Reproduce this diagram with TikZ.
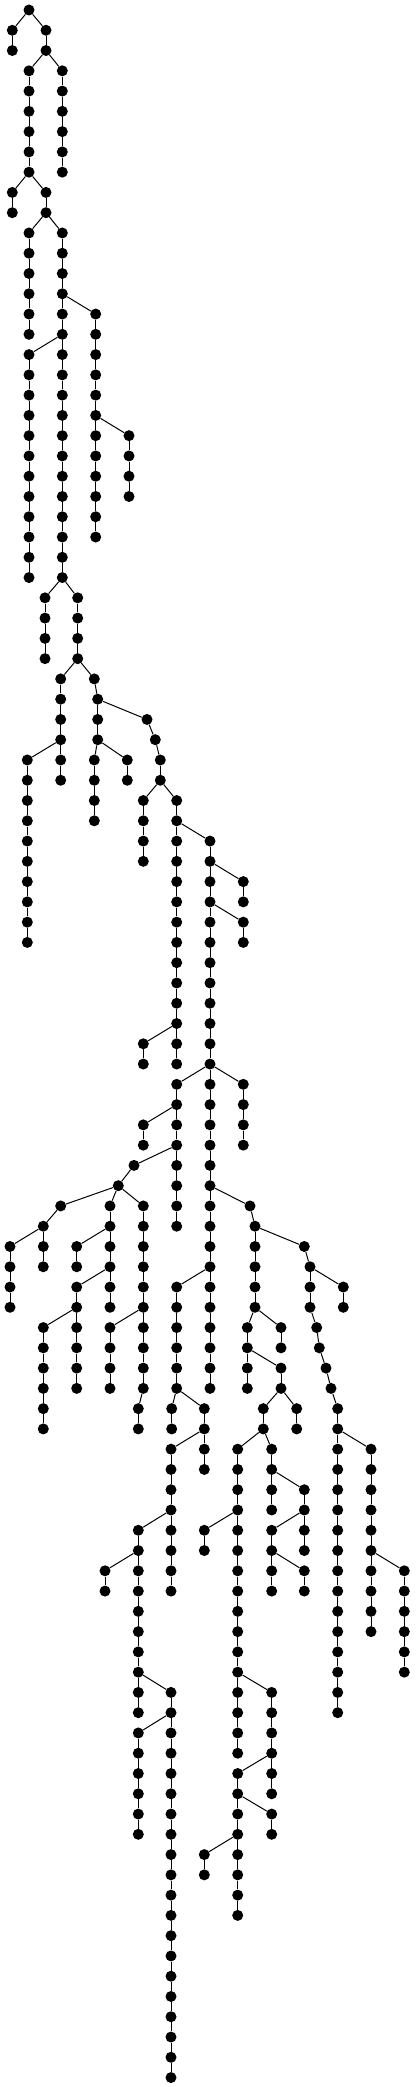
\documentclass[tikz,border=0pt]{standalone}
\tikzset{
  dot/.style={circle, fill=black, inner sep=0pt, minimum size=11pt},
  edge/.style={line width=1pt}
}
\begin{document}
\begin{tikzpicture}[x=1pt, y=1pt]
  \useasboundingbox (0,0) rectangle (415,-2087);
  % Vertical chains: name/x/first row/last row
  \foreach \nm/\x/\s/\e in {R/29/0/0, A/12.3/1/2, B/46/1/2, C/29/3/8, D/62.3/3/8,
      E/12.3/9/10, F/46/9/10, G/29/11/16, H/62.3/11/28, I/95.7/15/26, J/129/21/24,
      K/29/17/28, L/45/29/32, M/77.7/29/32, N/60.7/33/38, O/27.3/37/46, P/94.3/33/33,
      Q/97.7/34/36, S/147/35/35, T/155.3/36/36, U/160.3/37/38, V/94.3/37/40,
      W/127.3/37/38, X/143.3/39/42, Y/176.7/39/52, Z/210/41/52, AA/243.3/43/44,
      AB/243.3/45/46, AC/143.3/51/52, AD/176.7/53/60, AE/210/53/68, AF/243.3/53/56,
      AG/143.3/55/56, AH/134/57/57, AI/118.3/58/58, AJ/60.7/59/59, AK/110/59/64,
      AL/143.3/59/68, AM/43.3/60/62, AN/10/61/64, AO/76.7/61/62, AP/76.7/63/68,
      AQ/43.3/65/70, AR/110/65/68, AS/138.3/69/70, AT/250/59/59, AU/255/60/64,
      AV/176.7/63/68, AW/171.7/69/70, AX/204.3/69/72, AY/171/71/78, AZ/138.3/75/84,
      BA/105/77/78, BB/171/83/102, BC/138.3/85/90, BD/247.3/65/68, BE/281/65/66,
      BF/281/67/68, BG/263.3/69/70, BH/296.7/69/70, BI/237.7/71/86, BJ/271.7/71/74,
      BK/204.3/75/76, BL/304.3/73/76, BM/271.7/75/78, BN/304.3/77/78, BO/271.7/83/88,
      BP/237.7/87/94, BQ/271.7/89/90, BR/204.3/91/92, BS/304.3/61/61, BT/310/62/64,
      BU/343.3/63/64, BV/316.7/65/65, BW/319.3/66/66, BX/326/67/67, BY/331/68/68,
      BZ/337.7/69/84, CA/371/71/80, CB/404.3/77/82}{
    \foreach \r in {\s,...,\e}{
      \node[dot] (\nm\r) at (\x,{-10-20.27*\r}) {};
      \ifnum\r>\s
        \pgfmathtruncatemacro\q{\r-1}
        \draw[edge] (\nm\q) -- (\nm\r);
      \fi
    }
  }
  % Branches: parent/child
  \foreach \a/\b in {R0/A1, R0/B1, B2/C3, B2/D3, C8/E9, C8/F9, F10/G11, F10/H11,
      H14/I15, I20/J21, H16/K17, H28/L29, H28/M29, M32/N33, N36/O37, M32/P33,
      P33/Q34, Q34/S35, S35/T36, T36/U37, Q36/V37, Q36/W37, U38/X39, U38/Y39,
      Y40/Z41, Z42/AA43, Z44/AB45, Y50/AC51, Z52/AD53, Z52/AE53, Z52/AF53,
      AD54/AG55, AD56/AH57, AH57/AI58, AI58/AJ59, AI58/AK59, AI58/AL59,
      AJ59/AM60, AM60/AN61, AK60/AO61, AK62/AP63, AP64/AQ65, AL64/AR65,
      AL68/AS69, AE58/AT59, AT59/AU60, AE62/AV63, AV68/AW69, AV68/AX69,
      AX70/AY71, AY74/AZ75, AZ76/BA77, AZ82/BB83, BB84/BC85, AU64/BD65,
      AU64/BE65, BD66/BF67, BF68/BG69, BF68/BH69, BG70/BI71, BG70/BJ71,
      BI74/BK75, BJ72/BL73, BL74/BM75, BM76/BN77, BI82/BO83, BO86/BP87,
      BP88/BQ89, BP90/BR91, AU60/BS61, BS61/BT62, BT62/BU63, BT64/BV65,
      BV65/BW66, BW66/BX67, BX67/BY68, BY68/BZ69, BZ70/CA71, CA76/CB77}
    \draw[edge] (\a) -- (\b);
\end{tikzpicture}
\end{document}
